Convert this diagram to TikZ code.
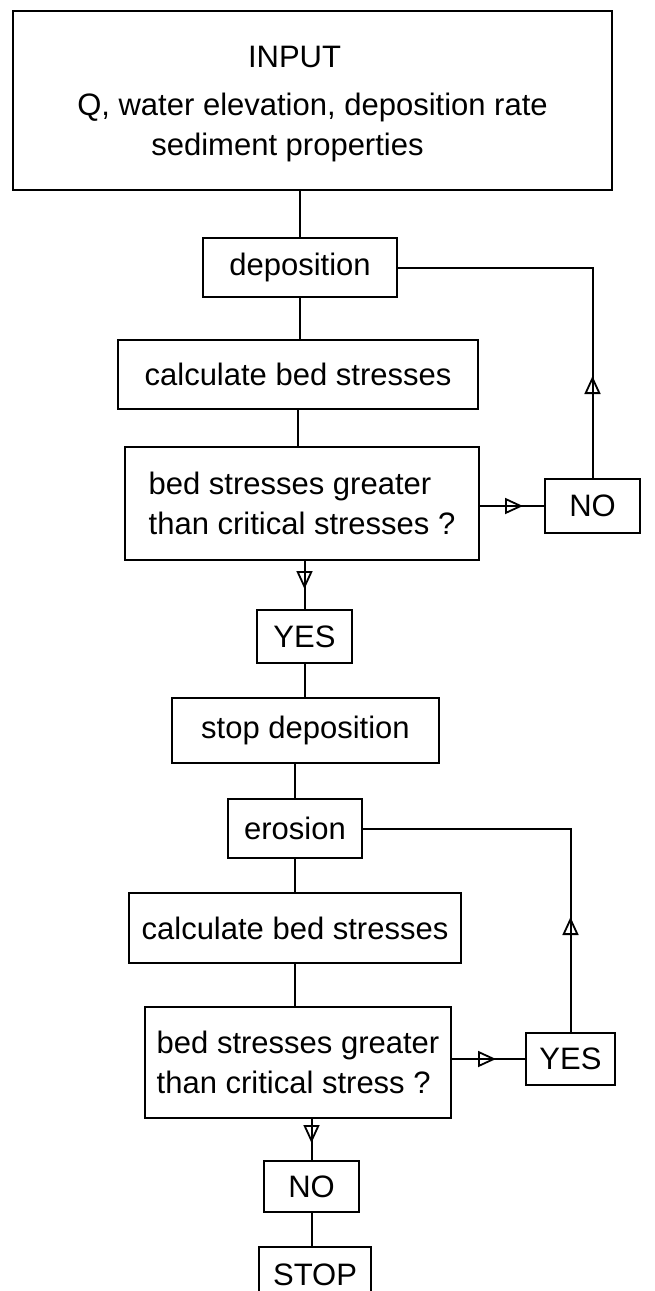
\documentclass[tikz,border=0pt]{standalone}
\usepackage{fontspec}
\setmainfont{Liberation Sans}
\usetikzlibrary{arrows.meta,decorations.markings}

\tikzset{
    box/.style={draw, line width=1pt, inner sep=0pt, align=center,
        font=\fontsize{15.5}{20}\selectfont},
    link/.style={line width=1pt},
    flowtip/.style={postaction={decorate}, decoration={markings,
        mark=at position #1 with {\arrow{Triangle[open,length=9pt,width=8pt,line width=0.9pt]}}}}
}

\begin{document}
\begin{tikzpicture}[x=0.5pt, y=-0.5pt]

    \useasboundingbox (0,0) rectangle (654,1291);

        % Input and deposition loop
        \node[box, minimum width=299.5pt, minimum height=89.5pt] (inp) at (312.5,100.5)
            {\rule{0pt}{14pt}INPUT\hspace*{18pt}\\[4pt] Q, water elevation, deposition rate\\ sediment properties\hspace*{25pt}};
        \node[box, minimum width=97pt, minimum height=29.5pt] (dep) at (300,267.5) {deposition};
        \node[box, minimum width=180pt, minimum height=34.5pt] (calcA) at (298,374.5) {calculate bed stresses};
        \node[box, align=left, minimum width=177pt, minimum height=56.5pt] (askA) at (302,503.5)
            {bed stresses greater\\ than critical stresses ?};
        \node[box, minimum width=47.5pt, minimum height=27pt] (noA) at (592.5,506) {NO};
        \node[box, minimum width=47.5pt, minimum height=26.5pt] (yesA) at (304.5,636.5) {YES};
        \node[box, minimum width=133.5pt, minimum height=32.5pt] (stopdep) at (305.5,730.5) {stop deposition};

        % Erosion loop
        \node[box, minimum width=67pt, minimum height=29.5pt] (ero) at (295,828.5) {erosion};
        \node[box, minimum width=166pt, minimum height=35pt] (calcB) at (295,928) {calculate bed stresses};
        \node[box, align=left, minimum width=153pt, minimum height=55.5pt] (askB) at (298,1062.5)
            {bed stresses greater\\ than critical stress ?};
        \node[box, minimum width=44.5pt, minimum height=26pt] (yesB) at (570.5,1059) {YES};
        \node[box, minimum width=47.5pt, minimum height=25.5pt] (noB) at (311.5,1186.5) {NO};
        \node[box, minimum width=56pt, minimum height=27.5pt] (stop) at (315,1274.5) {STOP};

        % Connectors
        \draw[link] (dep.north) -- (dep.north |- inp.south);
        \draw[link] (dep.south) -- (dep.south |- calcA.north);
        \draw[link] (calcA.south) -- (calcA.south |- askA.north);
        \draw[link, flowtip=14pt] (yesA.north |- askA.south) -- (yesA.north);
        \draw[link, flowtip=21.5pt] (askA.east |- noA.west) -- (noA.west);
        \draw[link, flowtip=51pt] (noA.north) |- (dep.east);
        \draw[link] (yesA.south) -- (yesA.south |- stopdep.north);
        \draw[link] (ero.north |- stopdep.south) -- (ero.north);
        \draw[link] (ero.south) -- (ero.south |- calcB.north);
        \draw[link] (calcB.south) -- (calcB.south |- askB.north);
        \draw[link, flowtip=22pt] (askB.east |- yesB.west) -- (yesB.west);
        \draw[link, flowtip=57.5pt] (yesB.north) |- (ero.east);
        \draw[link, flowtip=12pt] (noB.north |- askB.south) -- (noB.north);
        \draw[link] (noB.south) -- (noB.south |- stop.north);

\end{tikzpicture}
\end{document}
